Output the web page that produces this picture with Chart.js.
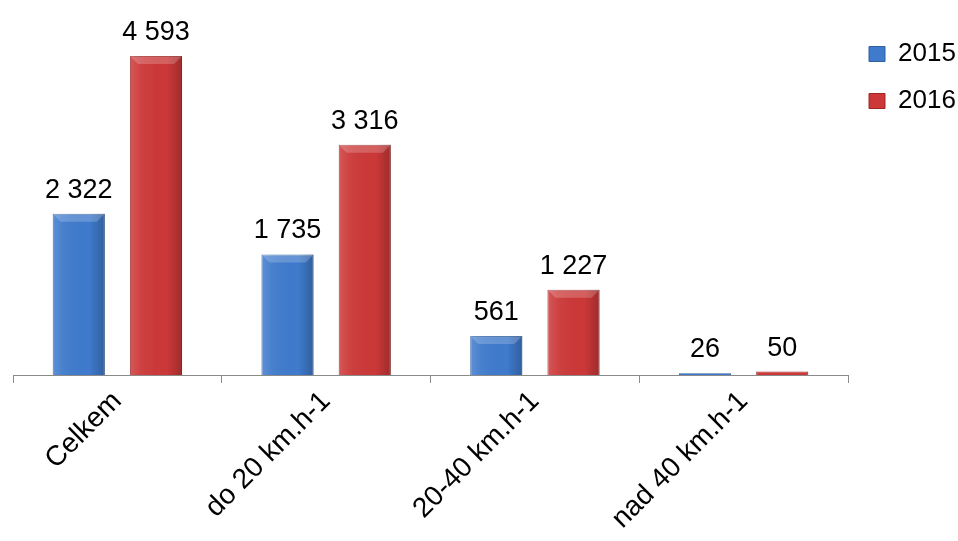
<!DOCTYPE html>
<html>
<head>
<meta charset="utf-8">
<script src="https://cdn.jsdelivr.net/npm/chart.js@4/dist/chart.umd.min.js"></script>
<style>
  html, body { margin: 0; padding: 0; background: #fff; }
  #wrap { width: 958px; height: 541px; position: relative; }
</style>
</head>
<body>
<div id="wrap"><canvas id="speedChart"></canvas></div>
<script>
var categories = ['Celkem', 'do 20 km.h-1', '20-40 km.h-1', 'nad 40 km.h-1'];
var seriesNames = ['2015', '2016'];
var values2015 = [2322, 1735, 561, 26];
var values2016 = [4593, 3316, 1227, 50];

var FONT = '"Liberation Sans", Arial, sans-serif';

function formatNumber(value) {
  return String(value).replace(/\B(?=(\d{3})+(?!\d))/g, ' ');
}

// light/dark overlay so the bars look like the bevelled office-style columns
var barShading = {
  id: 'barShading',
  afterDatasetsDraw: function(chart) {
    var ctx = chart.ctx;
    ctx.save();
    chart.data.datasets.forEach(function(ds, i) {
      chart.getDatasetMeta(i).data.forEach(function(bar) {
        var p = bar.getProps(['x', 'y', 'base', 'width'], true);
        var left = p.x - p.width / 2;
        var right = p.x + p.width / 2;
        var top = p.y;
        var h = p.base - p.y;
        if (h < 4) {
          return;
        }
        var grad = ctx.createLinearGradient(left, 0, right, 0);
        grad.addColorStop(0, 'rgba(255,255,255,0.16)');
        grad.addColorStop(0.2, 'rgba(255,255,255,0.05)');
        grad.addColorStop(0.7, 'rgba(0,0,0,0)');
        grad.addColorStop(1, 'rgba(0,0,0,0.22)');
        ctx.fillStyle = grad;
        ctx.fillRect(left, top, p.width, h);

        var b = Math.min(8, h / 2);
        ctx.beginPath();
        ctx.moveTo(left, top);
        ctx.lineTo(right, top);
        ctx.lineTo(right - b, top + b);
        ctx.lineTo(left + b, top + b);
        ctx.closePath();
        ctx.fillStyle = 'rgba(255,255,255,0.2)';
        ctx.fill();
      });
    });
    ctx.restore();
  }
};

var valueLabels = {
  id: 'valueLabels',
  afterDatasetsDraw: function(chart) {
    var ctx = chart.ctx;
    ctx.save();
    ctx.font = '27px ' + FONT;
    ctx.fillStyle = '#000';
    ctx.textAlign = 'center';
    ctx.textBaseline = 'alphabetic';
    chart.data.datasets.forEach(function(ds, i) {
      chart.getDatasetMeta(i).data.forEach(function(bar, j) {
        ctx.fillText(formatNumber(ds.data[j]), bar.x, bar.y - 16);
      });
    });
    ctx.restore();
  }
};

var ctx = document.getElementById('speedChart').getContext('2d');
new Chart(ctx, {
  type: 'bar',
  data: {
    labels: categories,
    datasets: [{
      label: seriesNames[0],
      data: values2015,
      backgroundColor: '#3f7acc',
      borderColor: '#2f5f9f',
      borderWidth: 1,
      categoryPercentage: 0.74,
      barPercentage: 0.675
    }, {
      label: seriesNames[1],
      data: values2016,
      backgroundColor: '#cc3838',
      borderColor: '#9e2626',
      borderWidth: 1,
      categoryPercentage: 0.74,
      barPercentage: 0.675
    }]
  },
  options: {
    responsive: true,
    maintainAspectRatio: false,
    animation: false,
    layout: {
      padding: { left: 13, top: 20, right: 0, bottom: 0 }
    },
    plugins: {
      tooltip: { enabled: false },
      legend: {
        position: 'right',
        align: 'start',
        maxWidth: 110,
        labels: {
          boxWidth: 16,
          boxHeight: 15,
          padding: 21,
          color: '#000',
          font: { family: FONT, size: 26 }
        }
      }
    },
    scales: {
      x: {
        offset: true,
        grid: {
          offset: true,
          drawOnChartArea: false,
          drawTicks: true,
          tickLength: 8,
          color: '#8a8a8a'
        },
        border: { color: '#8a8a8a', width: 1 },
        ticks: {
          color: '#000',
          minRotation: 45,
          maxRotation: 45,
          padding: 2,
          font: { family: FONT, size: 28 }
        },
        afterFit: function(scale) {
          scale.height = 166;
        }
      },
      y: {
        display: false,
        min: 0,
        max: 5111
      }
    }
  },
  plugins: [barShading, valueLabels]
});
</script>
</body>
</html>
